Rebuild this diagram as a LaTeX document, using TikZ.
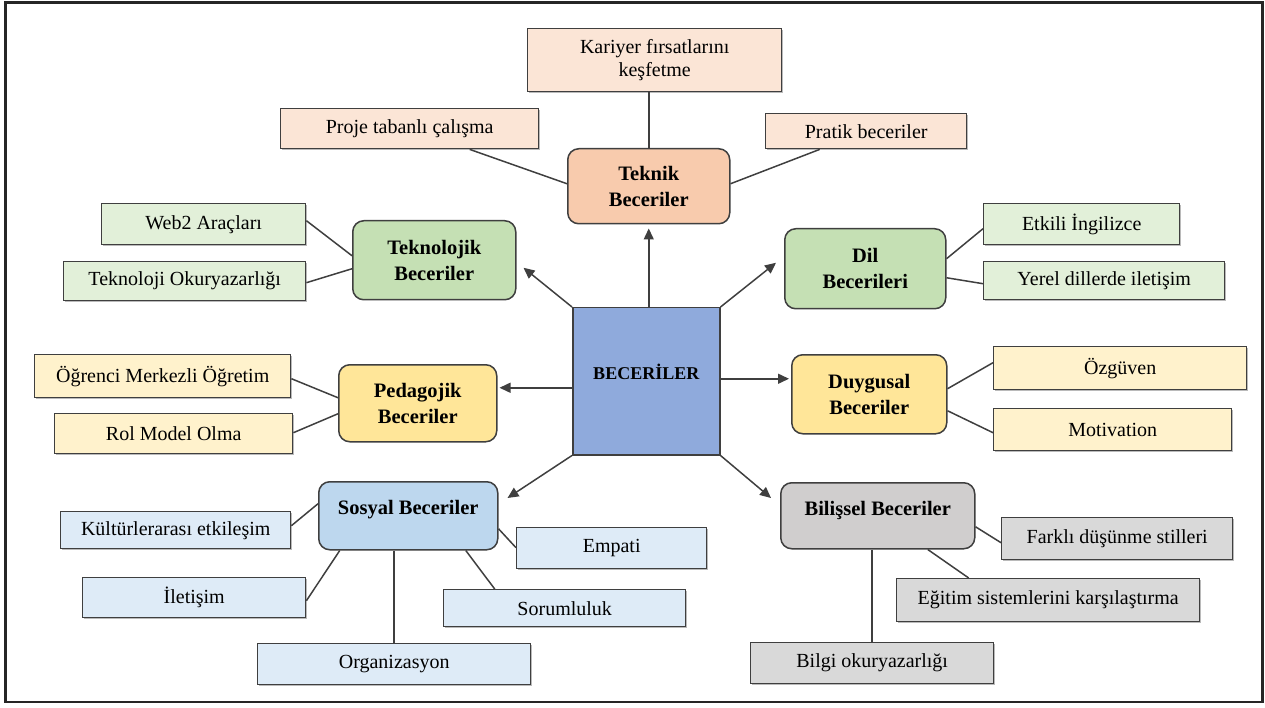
\documentclass[tikz,border=0pt]{standalone}
\usepackage{fontspec}
\setmainfont{Liberation Serif}
\usetikzlibrary{arrows.meta,shadows}

\definecolor{edge}{HTML}{3F3F3F}
\definecolor{tekH}{HTML}{F8CBAD}\definecolor{tekL}{HTML}{FBE5D6}
\definecolor{grnH}{HTML}{C5E0B4}\definecolor{grnL}{HTML}{E2F0D9}
\definecolor{ylwH}{HTML}{FFE699}\definecolor{ylwL}{HTML}{FFF2CC}
\definecolor{bluH}{HTML}{BDD7EE}\definecolor{bluL}{HTML}{DEEBF7}
\definecolor{gryH}{HTML}{D0CECE}\definecolor{gryL}{HTML}{D9D9D9}
\definecolor{core}{HTML}{8FAADC}

\tikzset{
  leaf/.style={draw=edge, line width=1.4pt, inner sep=0pt, anchor=north west,
    align=center, font=\fontsize{20}{23}\selectfont,
    drop shadow={shadow xshift=1.3pt, shadow yshift=-1.3pt, fill=black!45, opacity=0.6}},
  hub/.style={draw=edge, line width=1.5pt, rounded corners=11pt, inner sep=0pt,
    anchor=north west, align=center, font=\bfseries\fontsize{20.5}{26}\selectfont},
  link/.style={draw=edge, line width=1.5pt},
  arr/.style={link, -{Triangle[length=11pt,width=10pt]}},
}

\begin{document}
\begin{tikzpicture}[x=1pt,y=-1pt]
\useasboundingbox (0,0) rectangle (1265,708);
\draw[line width=2.5pt, draw=black!85] (5.5,2.5) rectangle (1262.5,702);

% centre
\node[draw=edge, line width=1.5pt, fill=core, inner sep=0pt, anchor=north west,
  minimum width=147pt, minimum height=147pt, text depth=18pt,
  font=\bfseries\fontsize{18}{22}\selectfont] (core) at (572,307) {BECERİLER};

% technical skills
\node[hub, fill=tekH, minimum width=162pt, minimum height=75pt] (teknik) at (567,148) {Teknik\\Beceriler};
\node[leaf, fill=tekL, minimum width=254pt, minimum height=63pt] (kariyer) at (527,28) {Kariyer fırsatlarını\\keşfetme};
\node[leaf, fill=tekL, minimum width=258pt, minimum height=40pt] (proje) at (280,108) {Proje tabanlı çalışma};
\node[leaf, fill=tekL, minimum width=201pt, minimum height=35pt] (pratik) at (765,113) {Pratik beceriler};

% technology skills
\node[hub, fill=grnH, minimum width=163pt, minimum height=79pt] (teknoloji) at (352,220) {Teknolojik\\Beceriler};
\node[leaf, fill=grnL, minimum width=204pt, minimum height=41pt] (web) at (101,203) {Web2 Araçları};
\node[leaf, fill=grnL, minimum width=242pt, minimum height=39pt] (okur) at (63,261) {Teknoloji Okuryazarlığı};

% language skills
\node[hub, fill=grnH, minimum width=161pt, minimum height=80pt] (dil) at (784,228) {Dil\\Becerileri};
\node[leaf, fill=grnL, minimum width=196pt, minimum height=41pt] (etkili) at (983,203) {Etkili İngilizce};
\node[leaf, fill=grnL, minimum width=241pt, minimum height=38pt] (yerel) at (983,261) {Yerel dillerde iletişim};

% pedagogical skills
\node[hub, fill=ylwH, minimum width=158pt, minimum height=77pt] (pedagojik) at (338,364) {Pedagojik\\Beceriler};
\node[leaf, fill=ylwL, minimum width=256pt, minimum height=43pt] (ogrenci) at (34,354) {Öğrenci Merkezli Öğretim};
\node[leaf, fill=ylwL, minimum width=238pt, minimum height=40pt] (rol) at (54,413) {Rol Model Olma};

% emotional skills
\node[hub, fill=ylwH, minimum width=155pt, minimum height=79pt] (duygusal) at (791,354) {Duygusal\\Beceriler};
\node[leaf, fill=ylwL, minimum width=253pt, minimum height=43pt] (ozguven) at (993,346) {Özgüven};
\node[leaf, fill=ylwL, minimum width=238pt, minimum height=42pt] (motivasyon) at (993,408) {Motivation};

% social skills
\node[hub, fill=bluH, minimum width=179pt, text height=32.5pt, text depth=35.5pt] (sosyal) at (318,481) {Sosyal Beceriler};
\node[leaf, fill=bluL, minimum width=230pt, minimum height=37pt] (kultur) at (60,511) {Kültürlerarası etkileşim};
\node[leaf, fill=bluL, minimum width=190pt, minimum height=41pt] (empati) at (516,527) {Empati};
\node[leaf, fill=bluL, minimum width=223pt, minimum height=40pt] (iletisim) at (82,577) {İletişim};
\node[leaf, fill=bluL, minimum width=242pt, minimum height=37pt] (sorumluluk) at (443,589) {Sorumluluk};
\node[leaf, fill=bluL, minimum width=273pt, minimum height=41pt] (organizasyon) at (257,643) {Organizasyon};

% cognitive skills
\node[hub, fill=gryH, minimum width=194pt, text height=32.5pt, text depth=33.5pt] (bilissel) at (780,482) {Bilişsel Beceriler};
\node[leaf, fill=gryL, minimum width=231pt, minimum height=42pt] (farkli) at (1001,517) {Farklı düşünme stilleri};
\node[leaf, fill=gryL, minimum width=303pt, minimum height=43pt] (egitim) at (896,578) {Eğitim sistemlerini karşılaştırma};
\node[leaf, fill=gryL, minimum width=243pt, minimum height=41pt] (bilgi) at (750,642) {Bilgi okuryazarlığı};

% branches from the hubs
\draw[link] (kariyer.south -| teknik.north) -- (teknik.north);
\draw[link] ([xshift=60pt]proje.south) -- ([yshift=2.5pt]teknik.west);
\draw[link] ([xshift=-46.5pt]pratik.south) -- ([yshift=2.5pt]teknik.east);
\draw[link] ([yshift=3.5pt]web.east) -- ([yshift=4.5pt]teknoloji.west);
\draw[link] ([yshift=-1.5pt]okur.east) -- ([yshift=-8.5pt]teknoloji.west);
\draw[link] ([yshift=10pt]dil.east) -- ([yshift=-4.5pt]etkili.west);
\draw[link] ([yshift=-9pt]dil.east) -- ([yshift=-3pt]yerel.west);
\draw[link] ([yshift=-2.5pt]ogrenci.east) -- ([yshift=5.5pt]pedagojik.west);
\draw[link] ([yshift=1pt]rol.east) -- ([yshift=-10.5pt]pedagojik.west);
\draw[link] ([yshift=5.5pt]duygusal.east) -- ([yshift=5.5pt]ozguven.west);
\draw[link] ([yshift=-16.5pt]duygusal.east) -- ([yshift=-3pt]motivasyon.west);
\draw[link] ([yshift=4.5pt]kultur.east) -- ([yshift=12pt]sosyal.west);
\draw[link] ([yshift=-3pt]iletisim.east) -- ([xshift=-68.5pt]sosyal.south);
\draw[link] (organizasyon.north |- sosyal.south) -- (organizasyon.north);
\draw[link] ([xshift=57.5pt]sosyal.south) -- ([xshift=-70pt]sorumluluk.north);
\draw[link] ([yshift=-13pt]sosyal.east) -- ([yshift=0.5pt]empati.west);
\draw[link] ([yshift=-11pt]bilissel.east) -- ([yshift=-4pt]farkli.west);
\draw[link] ([xshift=50pt]bilissel.south) -- ([xshift=-79.5pt]egitim.north);
\draw[link] (bilgi.north |- bilissel.south) -- (bilgi.north);

% arrows from the centre
\draw[arr, shorten >=4pt] (core.north -| teknik.south) -- (teknik.south);
\draw[arr] (core.north west) -- ([xshift=7pt,yshift=-7.5pt]teknoloji.east);
\draw[arr] (core.north east) -- ([xshift=-8pt,yshift=6pt]dil.west);
\draw[arr, shorten >=2pt] ([yshift=-6.5pt]core.west) coordinate (cw) -- (cw -| pedagojik.east);
\draw[arr, shorten >=2pt] ([yshift=2.5pt]core.east) coordinate (ce) -- (ce -| duygusal.west);
\draw[arr] (core.south west) -- ([xshift=9pt,yshift=-17pt]sosyal.north east);
\draw[arr] (core.south east) -- ([xshift=-9pt,yshift=-16pt]bilissel.north west);
\end{tikzpicture}
\end{document}
